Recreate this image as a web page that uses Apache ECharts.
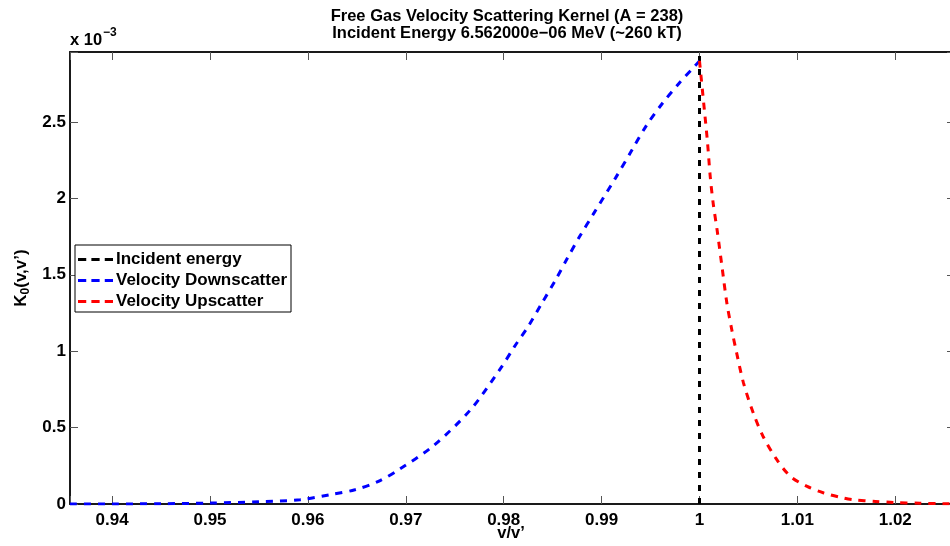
<!DOCTYPE html>
<html><head><meta charset="utf-8">
<script src="https://cdn.jsdelivr.net/npm/echarts@6/dist/echarts.min.js"></script>
<style>html,body{margin:0;padding:0;background:#fff}#c{width:950px;height:546px}</style>
</head><body><div id="c"></div>
<script>
// Values in units of 1e-3
const downV = [0.9357,0.940,0.945,0.950,0.955,0.9592,0.9623,0.9648,0.9672,0.9694,0.9728,0.9766,0.9797,0.9811,0.9826,0.9839,0.9853,0.9865,0.9878,0.9892,0.9914,0.9931,0.9946,0.9962,0.9979,0.9996,1.0];
const downK = [0,0,0.002,0.006,0.015,0.028,0.061,0.093,0.148,0.229,0.380,0.616,0.889,1.030,1.172,1.314,1.466,1.608,1.755,1.902,2.131,2.316,2.479,2.621,2.752,2.871,2.900];
const upV = [1.0,1.0004,1.0008,1.0011,1.0014,1.0018,1.0023,1.0028,1.0033,1.0038,1.0045,1.0055,1.0065,1.0079,1.0093,1.0110,1.0127,1.0147,1.0157,1.0180,1.0198,1.0225,1.0249,1.0261];
const upK = [2.900,2.643,2.381,2.141,1.967,1.793,1.553,1.314,1.140,0.987,0.791,0.595,0.442,0.290,0.180,0.115,0.072,0.039,0.028,0.017,0.010,0.005,0.002,0.001];
const incV = [1.0, 1.0];
const incK = [0, 2.958];
const xMin = 0.9357, xMax = 1.0261;
const yMin = 0, yMax = 2.958, yStep = 0.5;
const titleLines = ['Free Gas Velocity Scattering Kernel (A = 238)', 'Incident Energy 6.562000e\u221206 MeV (~260 kT)'];
const seriesNames = ['Incident energy', 'Velocity Downscatter', 'Velocity Upscatter'];

const FONT = '"Liberation Sans", Arial, Helvetica, sans-serif';
const zip = (a, b) => a.map((v, i) => [v, b[i]]);
const fmtX = v => Math.abs(v * 100 - Math.round(v * 100)) < 1e-6 ? String(+v.toFixed(2)) : '';
const fmtY = v => Math.abs(v * 2 - Math.round(v * 2)) < 1e-6 ? String(+v.toFixed(1)) : '';

const axisLine = { show: true, onZero: false, lineStyle: { color: '#1a1a1a', width: 2 } };
const tick = { show: true, inside: true, length: 8, lineStyle: { color: '#555', width: 1 } };
const lbl = { color: '#000', fontFamily: FONT, fontWeight: 'bold', fontSize: 17 };
const dashIcon = 'path://M0,0H8V3H0Z M13,0H21V3H13Z M26,0H34V3H26Z';

const chart = echarts.init(document.getElementById('c'), null, { renderer: 'canvas' });
chart.setOption({
  animation: false,
  backgroundColor: '#fff',
  title: {
    text: titleLines.join('\n'), left: 502, top: 3, textAlign: 'center',
    textStyle: { fontFamily: FONT, fontWeight: 'bold', fontSize: 16.5, lineHeight: 17, color: '#000' }
  },
  grid: { left: 70, top: 52, width: 885, height: 452, containLabel: false, outerBoundsMode: 'none' },
  xAxis: [
    { type: 'value', min: xMin, max: xMax, splitNumber: 10, position: 'bottom',
      axisLine, axisTick: tick, splitLine: { show: false },
      axisLabel: Object.assign({ margin: 8, formatter: fmtX }, lbl) },
    { type: 'value', min: xMin, max: xMax, splitNumber: 10, position: 'top',
      axisLine, axisTick: tick, splitLine: { show: false }, axisLabel: { show: false } }
  ],
  yAxis: [
    { type: 'value', min: yMin, max: yMax, interval: yStep, position: 'left',
      axisLine, axisTick: tick, splitLine: { show: false },
      axisLabel: Object.assign({ margin: 4, formatter: fmtY }, lbl) },
    { type: 'value', min: yMin, max: yMax, interval: yStep, position: 'right',
      axisLine, axisTick: tick, splitLine: { show: false }, axisLabel: { show: false } }
  ],
  legend: {
    orient: 'vertical', left: 75, top: 245,
    data: seriesNames.map(n => ({ name: n, icon: dashIcon })),
    itemWidth: 35, itemHeight: 14, itemGap: 4, symbolKeepAspect: true,
    backgroundColor: '#fff', borderColor: '#000', borderWidth: 1, borderRadius: 0,
    padding: [6, 4, 2, 3],
    textStyle: { fontFamily: FONT, fontWeight: 'bold', fontSize: 17, lineHeight: 17, color: '#000', padding: [0, 0, 0, -2] }
  },
  series: [
    { name: seriesNames[0], type: 'line', data: zip(incV, incK), showSymbol: false, symbol: 'none',
      lineStyle: { color: '#000', width: 3, type: [6, 7] }, itemStyle: { color: '#000' }, z: 3 },
    { name: seriesNames[1], type: 'line', data: zip(downV, downK), showSymbol: false, symbol: 'none', smooth: 0.3,
      lineStyle: { color: '#0000ff', width: 3, type: [7, 7] }, itemStyle: { color: '#0000ff' }, z: 4 },
    { name: seriesNames[2], type: 'line', data: zip(upV, upK), showSymbol: false, symbol: 'none', smooth: 0.3,
      lineStyle: { color: '#ff0000', width: 3, type: [7, 7] }, itemStyle: { color: '#ff0000' }, z: 5 }
  ],
  graphic: [
    { type: 'text', left: 70, top: 27, style: {
        text: '{a|x 10}{s|\u22123}',
        rich: { a: { fontFamily: FONT, fontWeight: 'bold', fontSize: 16.5, color: '#000', padding: [7, 0, 0, 0] },
                s: { fontFamily: FONT, fontWeight: 'bold', fontSize: 12, color: '#000', padding: [0, 0, 7, 1] } } } },
    { type: 'text', x: 511, y: 533, style: {
        text: 'v/v\u2019', align: 'center', verticalAlign: 'middle',
        fontFamily: FONT, fontWeight: 'bold', fontSize: 16.5, fill: '#000' } },
    { type: 'text', x: 21, y: 278, rotation: Math.PI / 2, style: {
        text: '{a|K}{s|0}{a|(v,v\u2019)}', align: 'center', verticalAlign: 'middle',
        rich: { a: { fontFamily: FONT, fontWeight: 'bold', fontSize: 17, color: '#000' },
                s: { fontFamily: FONT, fontWeight: 'bold', fontSize: 12, color: '#000', padding: [9, 0, 0, 0] } } } }
  ]
});
</script></body></html>
